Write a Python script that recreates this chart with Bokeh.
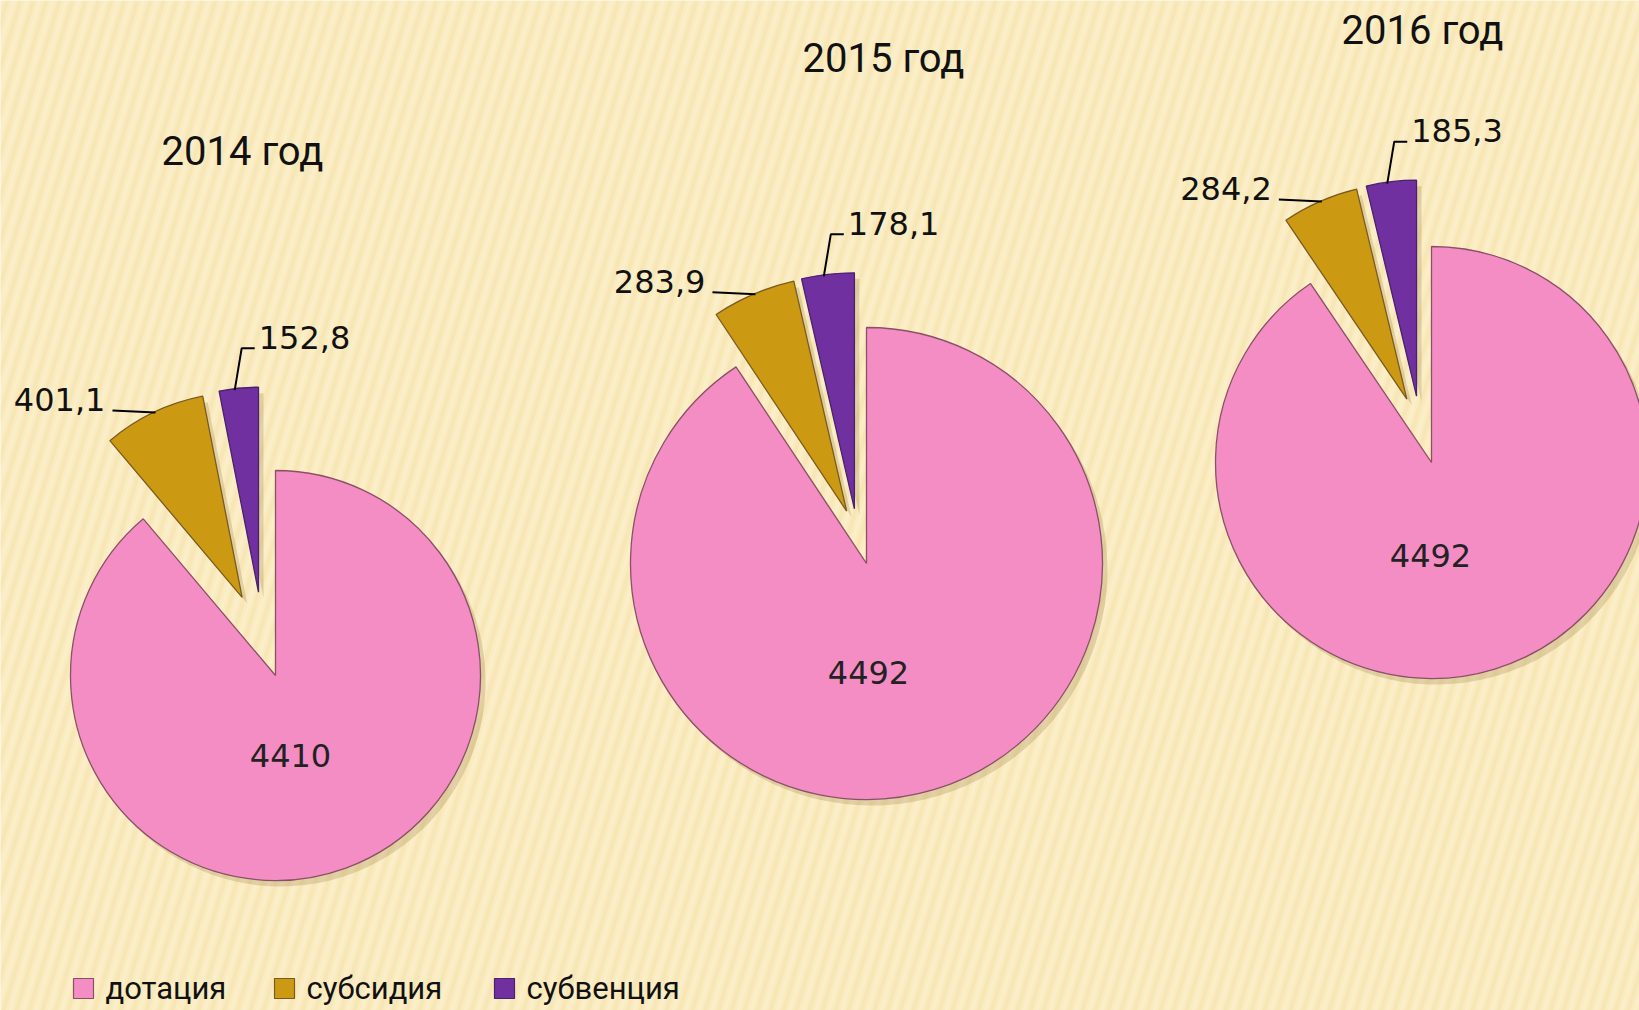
import numpy as np
from bokeh.plotting import figure
from bokeh.models import Range1d, ColumnDataSource
from bokeh.core.properties import value
from bokeh.embed import file_html
from bokeh.resources import INLINE

# ---------------- data ----------------
years = ["2014 год", "2015 год", "2016 год"]
categories = ["дотация", "субсидия", "субвенция"]
dotacia = [4410, 4492, 4492]
subsidia = [401.1, 283.9, 284.2]
subvencia = [152.8, 178.1, 185.3]
value_labels_dot = ["4410", "4492", "4492"]
value_labels_sub = ["401,1", "283,9", "284,2"]
value_labels_subv = ["152,8", "178,1", "185,3"]

colors = ["#F38DC4", "#CC9A12", "#7030A0"]
outline = ["#8a5068", "#7a5a20", "#4a2070"]

# ---------------- layout (screen px of the reference) ----------------
W, H = 1639, 1010
centers = [(275, 675), (866, 563), (1431, 462)]
radii = [205, 236, 216]
explode = [85, 56, 68]
dir_tweak = [0.0, np.radians(-2.5), np.radians(6.0)]   # pink, gold, purple explode direction tweak
inner_off = [(15, 80), (2, 109), (-1, 93)]
title_pos = [(242, 151), (883, 58), (1422, 30)]
legend_x = [83, 284, 504]
legend_y = 988
TXT_SHIFT = 11


def Y(sy):
    return H - sy


p = figure(width=W, height=H,
           x_range=Range1d(0, W), y_range=Range1d(0, H),
           output_backend="svg", toolbar_location=None, min_border=0)
p.axis.visible = False
p.grid.visible = False
p.outline_line_color = None
p.background_fill_color = "#FAEBC0"
p.border_fill_color = "#FAEBC0"

# background stripes (decorative)
xs0 = np.arange(-400, W + 40, 13.0)
p.segment(x0=xs0, y0=np.full(len(xs0), 0.0), x1=xs0 + 0.30 * H, y1=np.full(len(xs0), float(H)),
          line_color="#EBD491", line_width=4, line_alpha=0.22)
xs1 = xs0 + 6.5
p.segment(x0=xs1, y0=np.full(len(xs1), 0.0), x1=xs1 + 0.30 * H, y1=np.full(len(xs1), float(H)),
          line_color="#FFF8E0", line_width=3, line_alpha=0.3)

txt_font = value("DejaVu Sans")
ttl_font = value("Roboto")
LBL = "32px"

for i in range(3):
    vals = [dotacia[i], subsidia[i], subvencia[i]]
    tot = sum(vals)
    deg = [v / tot * 2 * np.pi for v in vals]
    cx, cy = centers[i][0], Y(centers[i][1])
    r = radii[i]
    # angles (anticlockwise): purple [90, 90+p], gold [90+p, 90+p+g], pink rest
    a90 = np.pi / 2
    spans = [
        (a90 + deg[2] + deg[1], a90 + 2 * np.pi),  # pink
        (a90 + deg[2], a90 + deg[2] + deg[1]),     # gold
        (a90, a90 + deg[2]),                       # purple
    ]
    xs, ys, st, en = [], [], [], []
    for k, (a0, a1) in enumerate(spans):
        d = 0 if k == 0 else explode[i]
        bis = (a0 + a1) / 2 + dir_tweak[k]
        xs.append(cx + d * np.cos(bis))
        ys.append(cy + d * np.sin(bis))
        st.append(a0)
        en.append(a1)
    src = ColumnDataSource(dict(x=xs, y=ys, s=st, e=en, c=colors, lc=outline,
                                sx=[v + 5 for v in xs], sy=[v - 6 for v in ys]))
    p.wedge(x="sx", y="sy", radius=r, start_angle="s", end_angle="e", source=src,
            fill_color="#8a6a2a", fill_alpha=0.22, line_color=None)
    p.wedge(x="x", y="y", radius=r, start_angle="s", end_angle="e", source=src,
            fill_color="c", line_color="lc", line_width=1.3)

    # purple label
    bis_p = (spans[2][0] + spans[2][1]) / 2
    ax = xs[2] + r * np.cos(bis_p)
    ay = ys[2] + r * np.sin(bis_p)
    p.line([ax - 4, ax + 3, ax + 16], [ay - 2, ay + 40, ay + 40], line_color="black", line_width=2)
    p.text(x=[ax + 20], y=[ay + 40 + TXT_SHIFT], text=[value_labels_subv[i]], text_font=txt_font,
           text_font_size=LBL, text_color="#111111", text_align="left", text_baseline="alphabetic")

    # gold label
    bis_g = (spans[1][0] + spans[1][1]) / 2
    gx = xs[1] + r * np.cos(bis_g)
    gy = ys[1] + r * np.sin(bis_g)
    p.line([gx + 2, gx - 41], [gy, gy + 2], line_color="black", line_width=2)
    p.text(x=[gx - 48], y=[gy + 2 + TXT_SHIFT], text=[value_labels_sub[i]], text_font=txt_font,
           text_font_size=LBL, text_color="#111111", text_align="right", text_baseline="alphabetic")

    # pink label
    p.text(x=[cx + inner_off[i][0]], y=[cy - inner_off[i][1]], text=[value_labels_dot[i]],
           text_font=txt_font, text_font_size=LBL, text_color="#222222",
           text_align="center", text_baseline="middle")

    # title
    p.text(x=[title_pos[i][0]], y=[Y(title_pos[i][1])], text=[years[i]], text_font=ttl_font,
           text_font_size="40px", text_color="#111111", text_align="center", text_baseline="alphabetic")

# legend
lsrc = ColumnDataSource(dict(x=legend_x, y=[Y(legend_y)] * 3, c=colors, lc=outline,
                             tx=[v + 22 for v in legend_x], t=categories))
p.rect(x="x", y="y", width=20, height=20, source=lsrc, fill_color="c", line_color="lc", line_width=1.2)
p.text(x="tx", y="y", text="t", source=lsrc, text_font=ttl_font, text_font_size="31px",
       text_color="#111111", text_align="left", text_baseline="middle")

open("out.html", "w").write(file_html(p, INLINE))
